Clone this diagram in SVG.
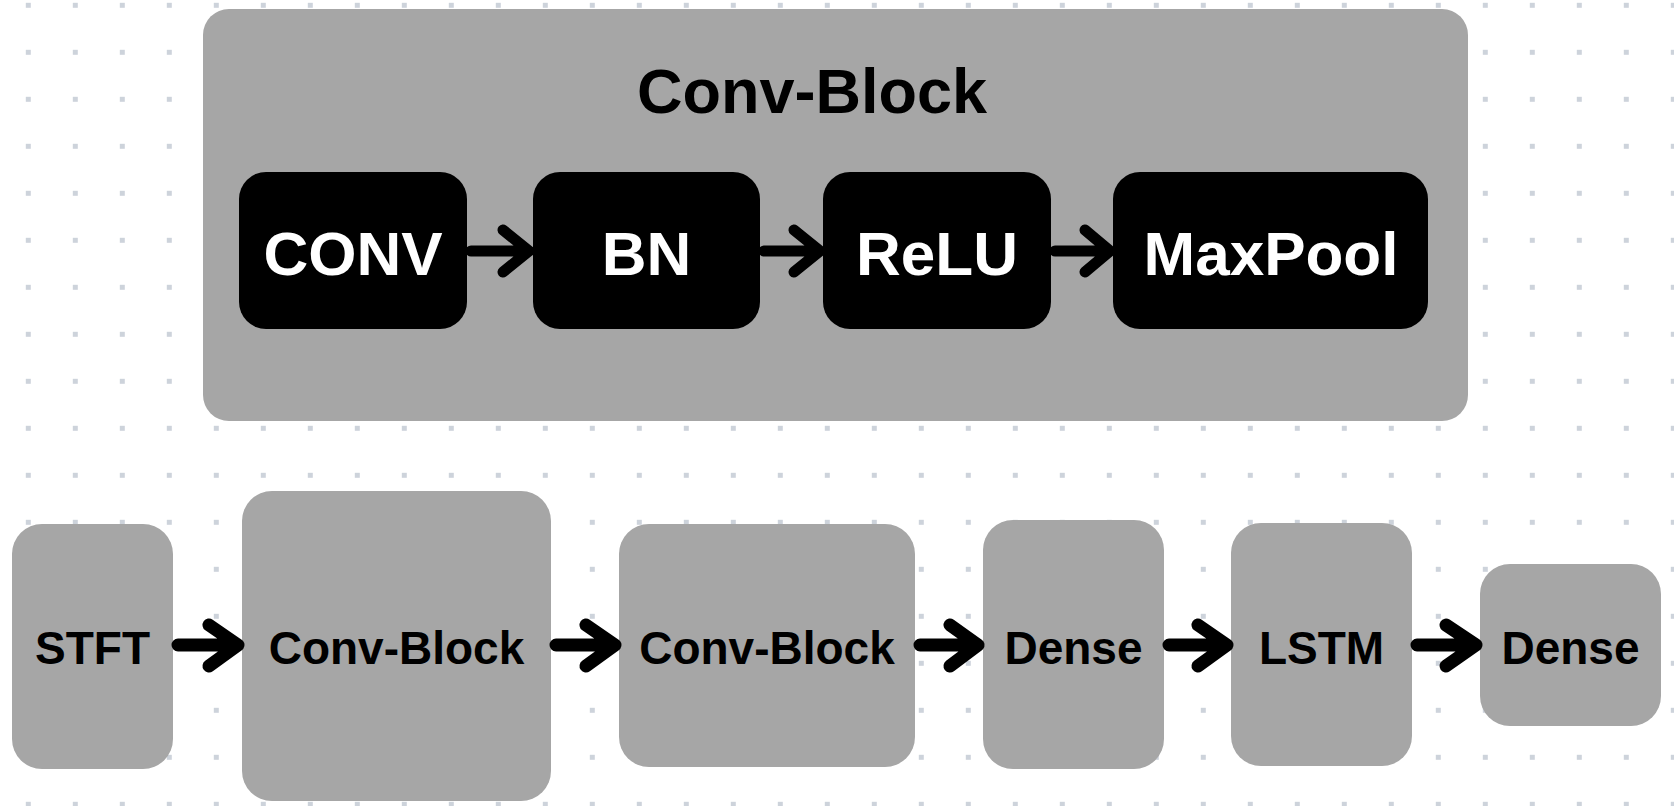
<svg xmlns="http://www.w3.org/2000/svg" width="1674" height="806" viewBox="0 0 1674 806">
<style>
  .panel { fill: #a6a6a6; }
  .inner { fill: #000000; }
  .ttl { font-family: "Liberation Sans", Arial, sans-serif; font-weight: bold; font-size: 63px; fill: #000; text-anchor: middle; }
  .wt { font-family: "Liberation Sans", Arial, sans-serif; font-weight: bold; font-size: 62px; fill: #fff; text-anchor: middle; }
  .bt { font-family: "Liberation Sans", Arial, sans-serif; font-weight: bold; font-size: 46px; fill: #000; text-anchor: middle; }
  .arr { fill: none; stroke: #000; stroke-linecap: round; stroke-linejoin: round; }
  .a1 { stroke-width: 11; }
  .a2 { stroke-width: 13; }
</style>
<defs>
  <pattern id="dots" patternUnits="userSpaceOnUse" x="0" y="0" width="47" height="47">
    <rect x="25.8" y="2.8" width="5" height="5" fill="#cdd3db"/>
  </pattern>
</defs>
<rect x="0" y="0" width="1674" height="806" fill="#ffffff"/>
<rect x="0" y="0" width="1674" height="806" fill="url(#dots)"/>

<g id="conv-block-panel">
  <rect class="panel" x="203" y="9" width="1265" height="412" rx="26" ry="26"/>
  <text class="ttl" x="812" y="113">Conv-Block</text>
</g>
<g id="node-conv">
  <rect class="inner" x="239" y="172" width="228" height="157" rx="27" ry="27"/>
  <text class="wt" x="353" y="275">CONV</text>
</g>
<g id="node-bn">
  <rect class="inner" x="533" y="172" width="227" height="157" rx="27" ry="27"/>
  <text class="wt" x="646.5" y="275">BN</text>
</g>
<g id="node-relu">
  <rect class="inner" x="823" y="172" width="228" height="157" rx="27" ry="27"/>
  <text class="wt" x="937" y="275">ReLU</text>
</g>
<g id="node-maxpool">
  <rect class="inner" x="1113" y="172" width="315" height="157" rx="27" ry="27"/>
  <text class="wt" x="1271" y="275">MaxPool</text>
</g>

<g id="node-stft">
  <rect class="panel" x="12" y="524" width="161" height="245" rx="30" ry="30"/>
  <text class="bt" x="92.5" y="664">STFT</text>
</g>
<g id="node-convblock1">
  <rect class="panel" x="242" y="491" width="309" height="310" rx="30" ry="30"/>
  <text class="bt" x="396.5" y="664">Conv-Block</text>
</g>
<g id="node-convblock2">
  <rect class="panel" x="619" y="524" width="296" height="243" rx="30" ry="30"/>
  <text class="bt" x="767" y="664">Conv-Block</text>
</g>
<g id="node-dense1">
  <rect class="panel" x="983" y="520" width="181" height="249" rx="30" ry="30"/>
  <text class="bt" x="1073.5" y="664">Dense</text>
</g>
<g id="node-lstm">
  <rect class="panel" x="1231" y="523" width="181" height="243" rx="30" ry="30"/>
  <text class="bt" x="1321.5" y="664">LSTM</text>
</g>
<g id="node-dense2">
  <rect class="panel" x="1480" y="564" width="181" height="162" rx="30" ry="30"/>
  <text class="bt" x="1570.5" y="664">Dense</text>
</g>

<g id="connectors">
  <path class="arr a1" d="M471 251 H529 M503 230 L529 251 L503 272"/>
  <path class="arr a1" d="M764 251 H820 M794 230 L820 251 L794 272"/>
  <path class="arr a1" d="M1055 251 H1110 M1085 230 L1110 251 L1085 272"/>

  <path class="arr a2" d="M178 645 H238 M209 625 L238 645 L209 666"/>
  <path class="arr a2" d="M556 645 H615 M586 625 L615 645 L586 666"/>
  <path class="arr a2" d="M920 645 H978 M950 625 L978 645 L950 666"/>
  <path class="arr a2" d="M1169 645 H1227 M1198 625 L1227 645 L1198 666"/>
  <path class="arr a2" d="M1417 645 H1476 M1446 625 L1476 645 L1446 666"/>
</g>
</svg>
